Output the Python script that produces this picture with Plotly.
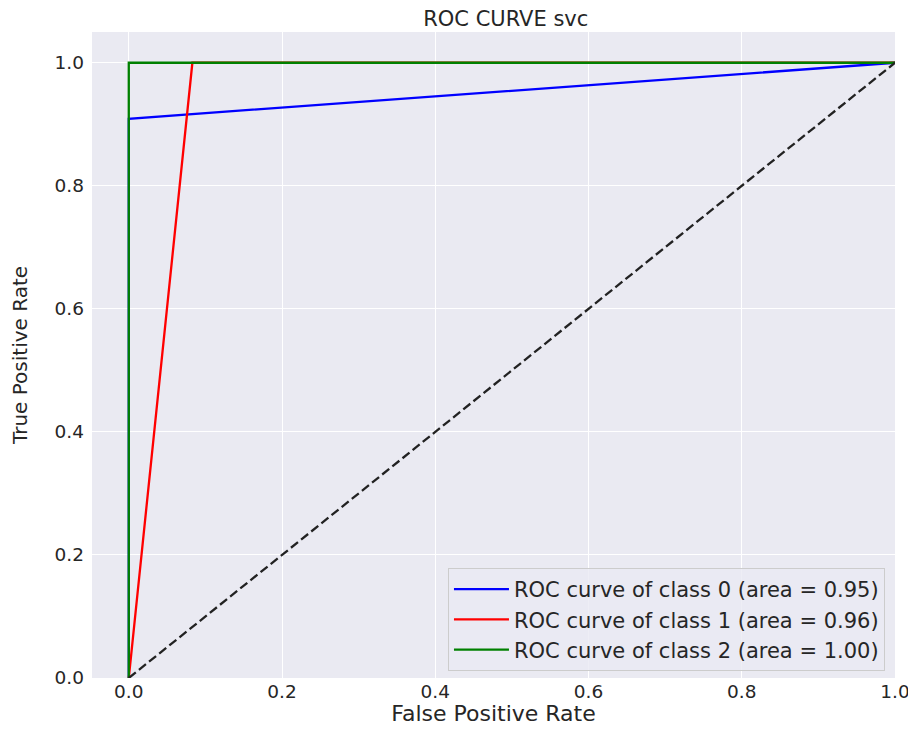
import plotly.graph_objects as go

fpr0 = [0.0, 0.0, 1.0]
tpr0 = [0.0, 0.909, 1.0]
fpr1 = [0.0, 0.083, 1.0]
tpr1 = [0.0, 1.0, 1.0]
fpr2 = [0.0, 0.0, 1.0]
tpr2 = [0.0, 1.0, 1.0]
diag_x = [0.0, 1.0]
diag_y = [0.0, 1.0]
names = ["ROC curve of class 0 (area = 0.95)",
         "ROC curve of class 1 (area = 0.96)",
         "ROC curve of class 2 (area = 1.00)"]
colors = ["blue", "red", "green"]
tick_vals = [0.0, 0.2, 0.4, 0.6, 0.8, 1.0]
tick_text = ["0.0", "0.2", "0.4", "0.6", "0.8", "1.0"]

fig = go.Figure()
for fx, ty, nm, c in zip([fpr0, fpr1, fpr2], [tpr0, tpr1, tpr2], names, colors):
    fig.add_trace(go.Scatter(x=fx, y=ty, mode="lines", name=nm,
                             line=dict(color=c, width=2.3)))
fig.add_trace(go.Scatter(x=diag_x, y=diag_y, mode="lines", showlegend=False,
                         line=dict(color="#222222", width=2.3, dash="9px,4px")))

fig.update_layout(
    width=916, height=732,
    margin=dict(l=84, r=29, t=24, b=62),
    paper_bgcolor="white",
    plot_bgcolor="#EAEAF2",
    font=dict(family="DejaVu Sans", size=18.5, color="#262626"),
    title=dict(text="ROC CURVE svc", x=472 / 916, xanchor="center", xref="paper",
               y=1 - 10.5 / 732, yanchor="middle",
               font=dict(size=21, color="#262626")),
    legend=dict(x=0.9875, y=0.011, xanchor="right", yanchor="bottom",
                bgcolor="rgba(234,234,242,0.8)", bordercolor="#CCCCCC", borderwidth=1,
                itemwidth=55, tracegroupgap=0,
                font=dict(size=21, color="#262626")),
    showlegend=True,
)
fig.update_xaxes(range=[-0.048, 1.0], tickvals=tick_vals, ticktext=tick_text,
                 showgrid=True, gridcolor="white", gridwidth=1.3, zeroline=False,
                 showline=False, ticks="", automargin=False,
                 title=dict(text="False Positive Rate", standoff=2, font=dict(size=22)))
fig.update_yaxes(range=[0.0, 1.05], tickvals=tick_vals, ticktext=tick_text,
                 showgrid=True, gridcolor="white", gridwidth=1.3, zeroline=False,
                 showline=False, ticks="", automargin=False, ticklabelstandoff=7,
                 title=dict(text="True Positive Rate", standoff=29, font=dict(size=20)))

fig.write_html("out.html")
